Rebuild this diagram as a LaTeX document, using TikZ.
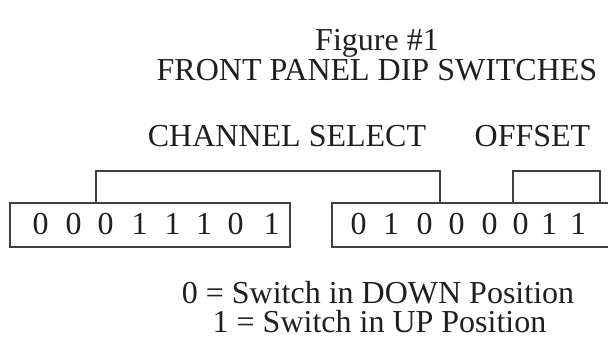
\documentclass[tikz,border=0pt]{standalone}
\usepackage{fontspec}
\setmainfont{Liberation Serif}
\begin{document}
\begin{tikzpicture}[x=1pt,y=-1pt,
  txt/.style={inner sep=0pt,anchor=base,text=black!88,font=\fontsize{32}{36}\selectfont},
  dig/.style={inner sep=0pt,anchor=base,text=black!88,font=\fontsize{32}{36}\selectfont},
  ln/.style={line width=1.1pt,draw=black!75}]
\useasboundingbox (0,0) rectangle (608,343);
\clip (0,0) rectangle (608,343);
% titles
\node[txt] (fig) at (377,50) {Figure \#1};
\node[txt] (ttl) at (377,80) {FRONT PANEL DIP SWITCHES};
\node[txt] (ch) at (287,146) {CHANNEL SELECT};
\node[txt] (off) at (532.5,146) {OFFSET};
% boxes
\coordinate (lb1) at (10,203); \coordinate (lb2) at (290,247);
\coordinate (rb1) at (332,203); \coordinate (rb2) at (630,247);
\draw[ln] (lb1) rectangle (lb2);
\draw[ln] (rb1) rectangle (rb2);
% brackets
\coordinate (c1) at (96,203); \coordinate (c2) at (440,203);
\coordinate (o1) at (513,203); \coordinate (o2) at (600,203);
\draw[ln] (c1) -- ++(0,-32) -| (c2);
\draw[ln] (o1) -- ++(0,-32) -| (o2);
% digits
\foreach \x/\d [count=\i] in {40.5/0,73.5/0,105.5/0,139.5/1,172.5/1,204/1,235.5/0,271.5/1}
  \node[dig] (l\i) at (\x,234) {\d};
\foreach \x/\d [count=\i] in {358.5/0,391/1,424.5/0,456.5/0,489.5/0,520.5/0,549/1,578/1}
  \node[dig] (r\i) at (\x,234) {\d};
% legend
\node[txt] (lg1) at (378,303) {0 = Switch in DOWN Position};
\node[txt] (lg2) at (379.5,332) {1 = Switch in UP Position};
\end{tikzpicture}
\end{document}
